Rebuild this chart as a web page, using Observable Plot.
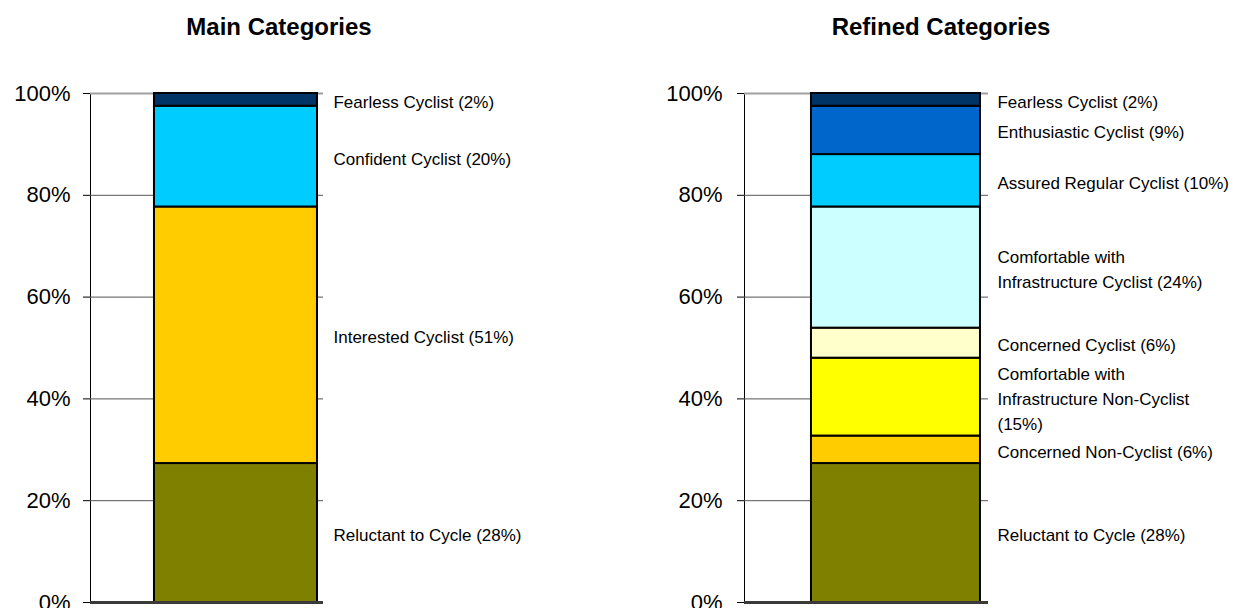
<!DOCTYPE html>
<html>
<head>
<meta charset="utf-8">
<script src="https://cdn.jsdelivr.net/npm/d3@7"></script>
<script src="https://cdn.jsdelivr.net/npm/@observablehq/plot@0.6"></script>
<style>
  html, body { margin: 0; padding: 0; background: #fff; }
  #root { position: relative; width: 1241px; height: 608px; overflow: hidden; font-family: "Liberation Sans", Arial, sans-serif; }
  .title { position: absolute; top: 13px; width: 400px; margin-left: -200px; text-align: center; font-weight: bold; font-size: 24px; line-height: 28px; color: #000; }
  .panel { position: absolute; top: 60px; }
</style>
</head>
<body>
<div id="root"></div>
<script>
// ---- data ----
const yTicks = [0, 20, 40, 60, 80, 100];

const mainTitle = "Main Categories";
const mainCategories = ["Reluctant to Cycle", "Interested Cyclist", "Confident Cyclist", "Fearless Cyclist"];
const mainValues = [27.3, 50.4, 19.8, 2.5];
const mainLabels = ["Reluctant to Cycle (28%)", "Interested Cyclist (51%)", "Confident Cyclist (20%)", "Fearless Cyclist (2%)"];
const mainColors = ["#808000", "#FFCC00", "#00CCFF", "#003366"];

const refinedTitle = "Refined Categories";
const refinedCategories = [
  "Reluctant to Cycle", "Concerned Non-Cyclist", "Comfortable with Infrastructure Non-Cyclist",
  "Concerned Cyclist", "Comfortable with Infrastructure Cyclist", "Assured Regular Cyclist",
  "Enthusiastic Cyclist", "Fearless Cyclist"
];
const refinedValues = [27.3, 5.4, 15.3, 5.9, 23.8, 10.3, 9.5, 2.5];
const refinedLabels = [
  "Reluctant to Cycle (28%)", "Concerned Non-Cyclist (6%)", "Comfortable with\nInfrastructure Non-Cyclist\n(15%)",
  "Concerned Cyclist (6%)", "Comfortable with\nInfrastructure Cyclist (24%)", "Assured Regular Cyclist (10%)",
  "Enthusiastic Cyclist (9%)", "Fearless Cyclist (2%)"
];
const refinedColors = ["#808000", "#FFCC00", "#FFFF00", "#FFFFCC", "#CCFFFF", "#00CCFF", "#0066CC", "#003366"];

// ---- drawing ----
function panel(cfg) {
  const data = cfg.categories.map((c, i) => ({category: c, value: cfg.values[i], label: cfg.labels[i], color: cfg.colors[i], group: "all"}));
  const font = '"Liberation Sans", Arial, sans-serif';
  return Plot.plot({
    width: cfg.width,
    height: 548,
    marginTop: 33,
    marginBottom: 6,
    marginLeft: cfg.marginLeft,
    marginRight: cfg.marginRight,
    style: {fontFamily: font, fontSize: "22px", color: "#000", background: "transparent", overflow: "visible"},
    x: {type: "band", domain: ["all"], paddingInner: 0, paddingOuter: cfg.paddingOuter, align: cfg.align, round: false, axis: null},
    y: {domain: [0, 100], ticks: yTicks, tickFormat: d => d + "%", tickSize: 7, tickPadding: cfg.tickPadding, line: true, label: null},
    marks: [
      Plot.ruleY(yTicks.filter(t => t > 0 && t < 100), {stroke: "#555555", strokeWidth: 1}),
      Plot.ruleY([100], {stroke: "#a0a0a0", strokeWidth: 2}),
      Plot.barY(data, {x: "group", y: "value", fill: "color", stroke: "#000", strokeWidth: 2, inset: 0}),
      Plot.text(data, Plot.stackY({x: "group", y: "value", text: "label", textAnchor: "start", dx: cfg.dx, fontSize: 17, lineHeight: 1.47, fill: "#000"})),
      Plot.ruleY([0], {stroke: "#3a3a3a", strokeWidth: 3})
    ]
  });
}

const root = document.getElementById("root");

function addPanel(left, titleCenter, title, cfg) {
  const t = document.createElement("div");
  t.className = "title";
  t.style.left = titleCenter + "px";
  t.textContent = title;
  root.appendChild(t);
  const wrap = document.createElement("div");
  wrap.className = "panel";
  wrap.style.left = left + "px";
  wrap.appendChild(panel(cfg));
  root.appendChild(wrap);
}

addPanel(0, 279, mainTitle, {
  categories: mainCategories, values: mainValues, labels: mainLabels, colors: mainColors,
  width: 620, marginLeft: 90, marginRight: 297, paddingOuter: 0.2147, align: 0.914, dx: 97.5, tickPadding: 13
});

addPanel(620, 941, refinedTitle, {
  categories: refinedCategories, values: refinedValues, labels: refinedLabels, colors: refinedColors,
  width: 621, marginLeft: 124, marginRight: 253, paddingOuter: 0.2219, align: 0.893, dx: 101.5, tickPadding: 15
});
</script>
</body>
</html>
